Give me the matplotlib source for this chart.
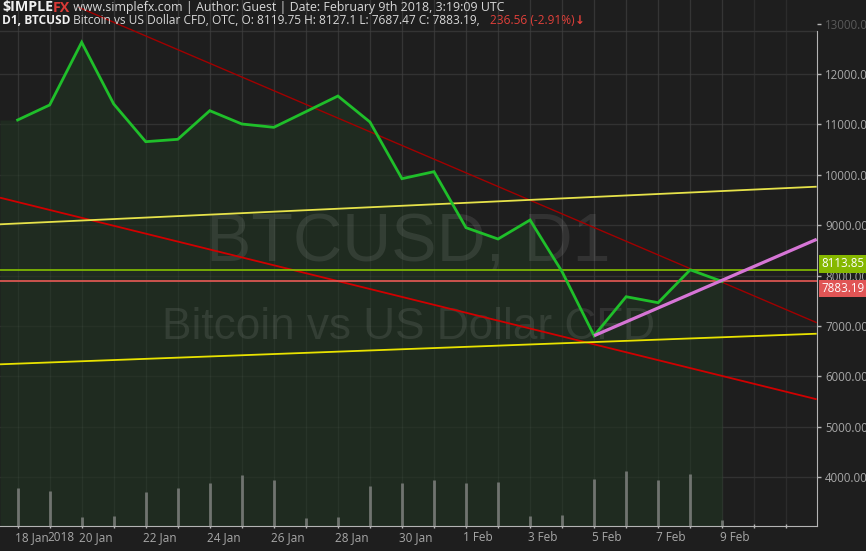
import numpy as np
import matplotlib
matplotlib.use('Agg')
import matplotlib.pyplot as plt
from matplotlib.transforms import blended_transform_factory

# ---------------- data ----------------
dates = ['18 Jan', '19 Jan', '20 Jan', '21 Jan', '22 Jan', '23 Jan', '24 Jan',
         '25 Jan', '26 Jan', '27 Jan', '28 Jan', '29 Jan', '30 Jan', '31 Jan',
         '1 Feb', '2 Feb', '3 Feb', '4 Feb', '5 Feb', '6 Feb', '7 Feb', '8 Feb',
         '9 Feb']
closes = [11087, 11385, 12629, 11405, 10657, 10704, 11272, 11008, 10942,
          11252, 11563, 11048, 9923, 10062, 8951, 8726, 9103, 8077, 6808,
          7581, 7462, 8115, 7883.19]
volumes = [37.7, 34.7, 8.7, 10.0, 34.0, 38.0, 43.0, 51.0, 45.7, 8.0, 9.0,
           40.0, 43.0, 46.0, 42.7, 43.7, 10.0, 11.3, 47.0, 55.0, 45.7, 52.0, 5.7]
label_dates = ['18 Jan', '19 Jan', '20 Jan', '22 Jan', '24 Jan', '26 Jan',
               '28 Jan', '30 Jan', '1 Feb', '3 Feb', '5 Feb', '7 Feb', '9 Feb']
label_texts = ['18 Jan', '2018', '20 Jan', '22 Jan', '24 Jan', '26 Jan',
               '28 Jan', '30 Jan', '1 Feb', '3 Feb', '5 Feb', '7 Feb', '9 Feb']
price_levels = [4000, 5000, 6000, 7000, 8000, 9000, 10000, 11000, 12000, 13000]
last_bid = 8113.85
last_close = 7883.19
# analyst trend lines: ((day index, price), (day index, price))
upper_red = ((1.9, 13325), (24.95, 7066))
lower_red = ((-0.55, 9546), (24.95, 5546))
upper_yellow = ((-0.55, 9018), (24.95, 9764))
lower_yellow = ((-0.55, 6240), (24.95, 6847))
pink_trend = ((18, 6808), (24.95, 8720))

# ---------------- style ----------------
BG = '#1e1e1e'
FILL = '#1f2b20'
GRID = '#2c2c2c'
AXC = '#b4b4b4'
TXT = '#a8a8a8'
FONT = ['Open Sans', 'DejaVu Sans']

W, H = 866, 551
fig = plt.figure(figsize=(W / 100, H / 100), dpi=100, facecolor=BG)
ax = fig.add_axes([0, 25 / H, 816.7 / W, 526 / H])
ax.set_facecolor(BG)

x = np.arange(len(dates))
xmin, xmax = -0.55, 24.95
ymin, ymax = 3032, 13468
ax.set_xlim(xmin, xmax)
ax.set_ylim(ymin, ymax)

# grid
for d in range(0, 25):
    ax.axvline(d, color=GRID, lw=1, zorder=0.5)
for p in price_levels[:-1]:
    ax.axhline(p, color=GRID, lw=1, zorder=0.5)
# top border of plot area
ax.axhline(12859, color='#343434', lw=1, zorder=0.6)

# area fill
fx = np.concatenate([[xmin], x])
fy = np.concatenate([[closes[0]], closes])
ax.fill_between(fx, fy, ymin, color=FILL, lw=0, zorder=1)
# grid visible over the fill (semi-transparent)
for d in range(0, 23):
    ax.axvline(d, color='white', alpha=0.045, lw=1, zorder=1.1)
for p in price_levels[:-1]:
    ax.axhline(p, color='white', alpha=0.03, lw=1, zorder=1.1)

# watermarks
ax.text(0.5, (8650 - ymin) / (ymax - ymin), 'BTCUSD, D1', transform=ax.transAxes,
        ha='center', va='center', fontsize=49, color='white', alpha=0.09,
        family='Liberation Sans', zorder=1.5)
ax.text(0.5, (6980 - ymin) / (ymax - ymin), 'Bitcoin vs US Dollar CFD',
        transform=ax.transAxes, ha='center', va='center', fontsize=31.8,
        color='white', alpha=0.09, family='Liberation Sans', zorder=1.5)

# volume bars
axv = ax.twinx()
axv.set_ylim(0, 526)
axv.set_xlim(xmin, xmax)
axv.vlines(x, 0, volumes, color='#707470', lw=2, zorder=2)
axv.axis('off')

# trend lines
def seg(l, **kw):
    ax.plot([l[0][0], l[1][0]], [l[0][1], l[1][1]], solid_capstyle='butt', **kw)

seg(upper_red, color='#a10000', lw=1.0, zorder=3)
seg(lower_red, color='#d00000', lw=1.3, zorder=3)
seg(upper_yellow, color='#e6e24a', lw=1.3, zorder=3)
seg(lower_yellow, color='#e8e200', lw=1.3, zorder=3)

ax.axhline(last_bid, color='#86c000', lw=1.2, zorder=3)
ax.axhline(last_close, color='#e85a55', lw=1.2, zorder=3)

ax.plot(x, closes, color='#1fbf2a', lw=2.0, zorder=4, solid_joinstyle='miter')
seg(pink_trend, color='#d675d6', lw=2.3, zorder=4.5)

# axes styling
for s in ['top', 'left']:
    ax.spines[s].set_visible(False)
ax.spines['right'].set_color(AXC)
ax.spines['bottom'].set_color(AXC)
ax.spines['right'].set_bounds(ymin, 12859)
ax.yaxis.tick_right()
ax.set_yticks(price_levels)
ax.set_yticklabels([f'{p:.2f}' for p in price_levels])
for lab, p in zip(ax.get_yticklabels(), price_levels):
    lab.set_color('#5a5a5a' if p == 13000 else TXT)
    lab.set_fontsize(8.3)
    lab.set_family(FONT)
ax.tick_params(axis='y', length=3, width=1, color=AXC, pad=3, direction='out')
ax.set_xticks(np.arange(0, 25))
ax.set_xticklabels([])
ax.tick_params(axis='x', length=3, width=1, color=AXC, direction='inout')

trans = blended_transform_factory(ax.transData, ax.transAxes)
for d, t in zip(label_dates, label_texts):
    ax.annotate(t, xy=(dates.index(d), 0), xycoords=trans, xytext=(-2.5, -5),
                textcoords='offset pixels', ha='left', va='top', fontsize=8.5,
                color=TXT, family=FONT, annotation_clip=False)

# price labels on the right
for val, col, off in [(last_bid, '#86b800', 6), (last_close, '#e05555', -7)]:
    ax.annotate(f'{val:.2f}', xy=(1, val), xycoords=('axes fraction', 'data'),
                xytext=(5, off), textcoords='offset pixels', ha='left',
                va='center', fontsize=8.3, color='white', family=FONT,
                annotation_clip=False,
                bbox=dict(boxstyle='square,pad=0.2', fc=col, ec='none'))

# header
fig.canvas.draw()
r = fig.canvas.get_renderer()

def chain(parts, x0, yc):
    xp = x0
    for txt, col, wt, fs in parts:
        t = fig.text(xp / W, 1 - yc / H, txt, color=col, fontsize=fs,
                     family=FONT, weight=wt, ha='left', va='center')
        bb = t.get_window_extent(r)
        xp += bb.width
    return xp

chain([('$IMPLE', '#f0f0f0', 'bold', 10.3), ('FX', '#d93a36', 'bold', 10.3),
       (' www.simplefx.com | Author: Guest | Date: February 9th 2018, 3:19:09 UTC',
        '#d8d8d8', 'normal', 8.9)], 2, 7.5)
chain([('D1, BTCUSD', '#f0f0f0', 'bold', 8.6),
       (' Bitcoin vs US Dollar CFD, OTC, O: 8119.75 H: 8127.1 L: 7687.47 C: 7883.19,   ',
        '#d8d8d8', 'normal', 8.6),
       ('236.56 (-2.91%)', '#e0403a', 'normal', 8.6),
       ('\u2193', '#e0403a', 'bold', 8.6)], 2, 21)

fig.savefig('out.png', dpi=100, facecolor=BG)
